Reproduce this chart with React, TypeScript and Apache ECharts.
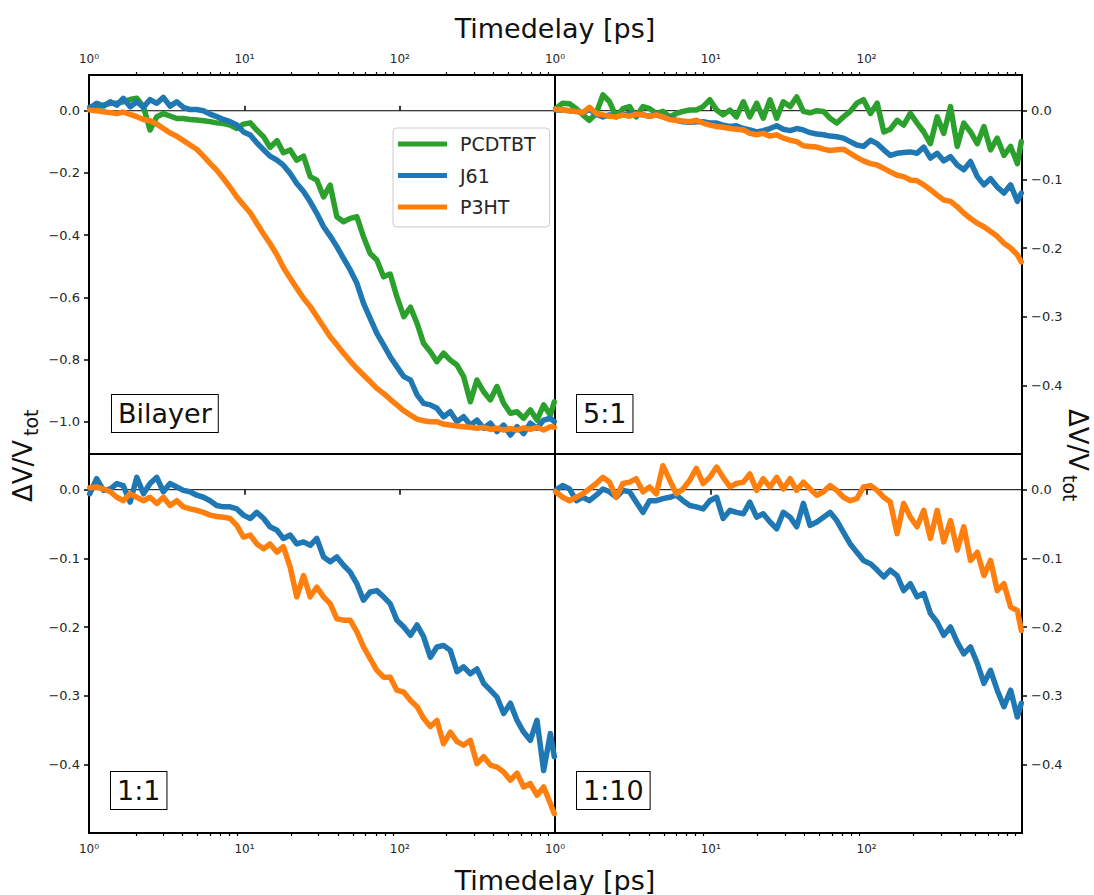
import React, { useEffect, useRef } from 'react';
import * as echarts from 'echarts';

// ---------- data (time in ps, signal ΔV/Vtot) ----------
const timePs = [
  1.01, 1.12, 1.24, 1.37, 1.51, 1.66, 1.84, 2.03, 2.24, 2.47,
  2.73, 3.01, 3.32, 3.67, 4.05, 4.47, 4.93, 5.45, 6.01, 6.63,
  7.33, 8.08, 8.93, 9.86, 10.9, 12.0, 13.3, 14.6, 16.2, 17.8,
  19.7, 21.7, 24.0, 26.5, 29.2, 32.3, 35.6, 39.3, 43.4, 47.9,
  52.9, 58.3, 64.4, 71.1, 78.5, 86.6, 95.6, 106, 117, 129,
  142, 157, 173, 191, 211, 233, 257, 284, 313, 346,
  382, 421, 465, 514, 567, 625, 690, 762, 841, 929,
  985,
];

const bilayerPCDTBT = [
  0.011, 0.013, 0.018, 0.024, 0.024, 0.029, 0.036, 0.040, 0.013, -0.062,
  -0.019, -0.009, -0.017, -0.025, -0.025, -0.028, -0.030, -0.032, -0.035, -0.039,
  -0.041, -0.046, -0.057, -0.043, -0.039, -0.062, -0.084, -0.118, -0.096, -0.135,
  -0.126, -0.159, -0.146, -0.212, -0.223, -0.277, -0.239, -0.341, -0.357, -0.346,
  -0.341, -0.405, -0.459, -0.480, -0.534, -0.525, -0.598, -0.662, -0.632, -0.684,
  -0.748, -0.775, -0.807, -0.780, -0.802, -0.818, -0.855, -0.936, -0.866, -0.904,
  -0.930, -0.887, -0.941, -0.973, -0.968, -0.989, -0.962, -0.995, -0.946, -0.979,
  -0.936,
];
const bilayerJ61 = [
  0.008, 0.024, 0.015, 0.029, 0.018, 0.040, 0.013, 0.029, 0.011, 0.036,
  0.024, 0.043, 0.015, 0.029, 0.011, 0.004, 0.004, 0.000, -0.011, -0.019,
  -0.028, -0.035, -0.046, -0.068, -0.078, -0.103, -0.126, -0.146, -0.159, -0.175,
  -0.202, -0.234, -0.260, -0.293, -0.330, -0.373, -0.403, -0.437, -0.475, -0.512,
  -0.555, -0.619, -0.668, -0.716, -0.753, -0.791, -0.823, -0.855, -0.866, -0.914,
  -0.941, -0.946, -0.957, -0.984, -0.968, -1.000, -0.984, -1.011, -0.995, -1.021,
  -1.005, -1.032, -1.011, -1.043, -1.016, -1.038, -1.005, -1.021, -0.995, -0.989,
  -1.000,
];
const bilayerP3HT = [
  0.002, 0.000, -0.003, -0.006, -0.009, -0.004, -0.012, -0.019, -0.028, -0.032,
  -0.043, -0.057, -0.071, -0.082, -0.096, -0.110, -0.124, -0.146, -0.169, -0.191,
  -0.218, -0.246, -0.277, -0.303, -0.328, -0.362, -0.397, -0.427, -0.464, -0.504,
  -0.539, -0.571, -0.603, -0.630, -0.662, -0.695, -0.727, -0.753, -0.780, -0.805,
  -0.829, -0.850, -0.871, -0.893, -0.909, -0.928, -0.946, -0.965, -0.979, -0.992,
  -0.997, -1.000, -1.000, -1.008, -1.011, -1.014, -1.016, -1.018, -1.021, -1.018,
  -1.025, -1.021, -1.027, -1.022, -1.027, -1.020, -1.025, -1.018, -1.027, -1.016,
  -1.018,
];

const fiveToOnePCDTBT = [
  0.003, 0.011, 0.010, 0.003, -0.006, -0.014, -0.004, 0.023, 0.013, -0.009,
  0.003, 0.006, -0.009, 0.006, 0.003, -0.004, -0.001, -0.009, -0.004, -0.001,
  0.001, 0.001, 0.006, 0.016, 0.001, -0.006, 0.001, -0.009, 0.013, -0.009,
  0.011, -0.011, 0.016, -0.011, 0.013, 0.006, 0.020, -0.001, -0.003, 0.000,
  -0.001, -0.011, -0.018, -0.009, -0.001, 0.011, 0.016, -0.004, 0.011, -0.031,
  -0.027, -0.014, -0.021, -0.004, -0.018, -0.031, -0.048, -0.009, -0.033, 0.006,
  -0.052, -0.018, -0.031, -0.048, -0.023, -0.057, -0.040, -0.065, -0.052, -0.077,
  -0.045,
];
const fiveToOneJ61 = [
  0.001, 0.001, 0.000, -0.001, -0.003, 0.002, -0.005, -0.009, -0.006, -0.008,
  -0.006, -0.004, -0.005, -0.006, -0.008, -0.006, -0.009, -0.011, -0.014, -0.016,
  -0.017, -0.016, -0.016, -0.018, -0.018, -0.021, -0.023, -0.022, -0.026, -0.028,
  -0.031, -0.029, -0.026, -0.022, -0.027, -0.029, -0.026, -0.028, -0.032, -0.034,
  -0.035, -0.037, -0.038, -0.040, -0.045, -0.050, -0.052, -0.043, -0.048, -0.057,
  -0.065, -0.062, -0.061, -0.060, -0.062, -0.053, -0.069, -0.062, -0.073, -0.067,
  -0.079, -0.086, -0.074, -0.096, -0.108, -0.099, -0.111, -0.120, -0.108, -0.132,
  -0.120,
];
const fiveToOneP3HT = [
  0.002, 0.001, 0.000, -0.001, -0.003, 0.005, -0.004, -0.006, -0.008, -0.009,
  -0.006, -0.008, -0.005, -0.006, -0.008, -0.006, -0.009, -0.013, -0.014, -0.015,
  -0.016, -0.014, -0.018, -0.021, -0.023, -0.024, -0.026, -0.027, -0.028, -0.033,
  -0.035, -0.033, -0.037, -0.035, -0.040, -0.043, -0.045, -0.051, -0.052, -0.053,
  -0.056, -0.058, -0.057, -0.056, -0.062, -0.068, -0.073, -0.077, -0.079, -0.084,
  -0.089, -0.094, -0.096, -0.101, -0.102, -0.108, -0.115, -0.123, -0.130, -0.132,
  -0.140, -0.149, -0.157, -0.164, -0.169, -0.176, -0.183, -0.193, -0.200, -0.210,
  -0.220,
];

const oneToOneJ61 = [
  -0.006, 0.016, -0.001, 0.001, 0.009, 0.006, -0.018, 0.018, -0.006, 0.009,
  0.018, -0.003, 0.009, 0.004, -0.001, -0.003, -0.008, -0.011, -0.016, -0.023,
  -0.025, -0.025, -0.028, -0.037, -0.042, -0.033, -0.042, -0.054, -0.059, -0.071,
  -0.066, -0.079, -0.076, -0.081, -0.071, -0.098, -0.105, -0.098, -0.110, -0.120,
  -0.137, -0.161, -0.149, -0.147, -0.156, -0.166, -0.190, -0.200, -0.212, -0.197,
  -0.214, -0.244, -0.229, -0.227, -0.234, -0.265, -0.258, -0.268, -0.261, -0.282,
  -0.292, -0.302, -0.326, -0.311, -0.336, -0.353, -0.365, -0.336, -0.409, -0.355,
  -0.389,
];
const oneToOneP3HT = [
  0.003, 0.004, 0.001, -0.003, -0.011, -0.016, -0.006, -0.011, -0.016, -0.011,
  -0.020, -0.011, -0.023, -0.016, -0.025, -0.028, -0.030, -0.033, -0.037, -0.039,
  -0.040, -0.042, -0.052, -0.069, -0.066, -0.079, -0.086, -0.079, -0.091, -0.083,
  -0.113, -0.156, -0.125, -0.156, -0.142, -0.156, -0.166, -0.188, -0.190, -0.190,
  -0.207, -0.229, -0.246, -0.263, -0.273, -0.273, -0.292, -0.295, -0.307, -0.316,
  -0.333, -0.345, -0.336, -0.370, -0.353, -0.367, -0.372, -0.365, -0.399, -0.389,
  -0.401, -0.404, -0.411, -0.423, -0.413, -0.433, -0.428, -0.445, -0.433, -0.457,
  -0.472,
];

const oneToTenJ61 = [
  -0.001, 0.006, 0.001, -0.016, -0.011, -0.016, -0.008, 0.001, -0.003, -0.011,
  -0.001, -0.003, -0.018, -0.033, -0.016, -0.016, -0.013, -0.011, -0.008, -0.016,
  -0.023, -0.025, -0.028, -0.016, -0.011, -0.042, -0.030, -0.033, -0.035, -0.018,
  -0.040, -0.035, -0.047, -0.057, -0.033, -0.040, -0.054, -0.020, -0.052, -0.047,
  -0.040, -0.033, -0.045, -0.062, -0.079, -0.091, -0.103, -0.108, -0.117, -0.127,
  -0.117, -0.125, -0.147, -0.137, -0.156, -0.151, -0.180, -0.193, -0.212, -0.200,
  -0.222, -0.239, -0.229, -0.253, -0.282, -0.263, -0.292, -0.316, -0.292, -0.331,
  -0.311,
];
const oneToTenP3HT = [
  -0.003, -0.011, -0.016, -0.011, -0.006, 0.001, 0.009, 0.018, 0.011, -0.011,
  0.009, 0.011, 0.016, -0.003, 0.004, -0.006, 0.035, 0.014, -0.006, 0.001,
  0.014, 0.031, 0.009, 0.018, 0.033, 0.018, 0.004, 0.009, 0.011, 0.023,
  -0.001, 0.016, 0.004, 0.018, 0.001, 0.016, -0.001, 0.011, 0.001, -0.008,
  -0.003, 0.006, -0.001, -0.011, -0.016, -0.013, 0.004, 0.006, -0.001, -0.011,
  -0.018, -0.064, -0.020, -0.040, -0.054, -0.030, -0.071, -0.030, -0.076, -0.045,
  -0.088, -0.054, -0.103, -0.091, -0.125, -0.103, -0.147, -0.137, -0.171, -0.176,
  -0.205,
];

const seriesNames = ['PCDTBT', 'J61', 'P3HT'];
const seriesColors = ['#2ca02c', '#1f77b4', '#ff7f0e'];
const panelLabels = ['Bilayer', '5:1', '1:1', '1:10'];
const xMajorTicks = [1, 10, 100];
const xMinorTicks = [2, 3, 4, 5, 6, 7, 8, 9, 20, 30, 40, 50, 60, 70, 80, 90, 200, 300, 400, 500, 600, 700, 800, 900];
const bilayerYTicks = [0, -0.2, -0.4, -0.6, -0.8, -1.0];
const blendYTicks = [0, -0.1, -0.2, -0.3, -0.4];
const X_MIN = 1;
const X_MAX = 995;

const panels = [
  { series: [bilayerPCDTBT, bilayerJ61, bilayerP3HT], yMin: -1.104, yMax: 0.115, yTicks: bilayerYTicks },
  { series: [fiveToOnePCDTBT, fiveToOneJ61, fiveToOneP3HT], yMin: -0.5, yMax: 0.052, yTicks: blendYTicks },
  { series: [null, oneToOneJ61, oneToOneP3HT], yMin: -0.5, yMax: 0.052, yTicks: blendYTicks },
  { series: [null, oneToTenJ61, oneToTenP3HT], yMin: -0.5, yMax: 0.052, yTicks: blendYTicks },
];

const FONT = 'DejaVu Sans';
const TEXT_COLOR = '#262626';
const SUP = ['\u2070', '\u00B9', '\u00B2', '\u00B3'];

const gridRects = [
  { left: 89, top: 75, width: 466, height: 379 },
  { left: 555, top: 75, width: 467, height: 379 },
  { left: 89, top: 454, width: 466, height: 379 },
  { left: 555, top: 454, width: 467, height: 379 },
];
const labelBoxes = [
  { x: 112, y: 395 },
  { x: 577, y: 395 },
  { x: 111, y: 772 },
  { x: 577, y: 772 },
];

function pairs(values: number[]) {
  const n = Math.min(values.length, timePs.length);
  const out: number[][] = [];
  for (let i = 0; i < n; i++) out.push([timePs[i], values[i]]);
  return out;
}

function xLabel(v: number) {
  const l = Math.log10(v);
  const e = Math.round(l);
  if (Math.abs(l - e) > 1e-6 || e < 0 || e > 2) return '';
  return '10' + SUP[e];
}
function yLabel(v: number) {
  if (Math.abs(v) < 1e-9) return '0.0';
  return v.toFixed(1).replace('-', '\u2212');
}

function buildOption() {
  const grid: any[] = [];
  const xAxis: any[] = [];
  const yAxis: any[] = [];
  const series: any[] = [];

  panels.forEach((p, i) => {
    const top = i < 2;
    const left = i % 2 === 0;
    grid.push({
      ...gridRects[i],
      show: true,
      borderColor: '#000',
      borderWidth: 2,
      backgroundColor: 'transparent',
      containLabel: false,
      outerBoundsMode: 'none',
    });
    xAxis.push({
      type: 'log',
      logBase: 10,
      gridIndex: i,
      min: X_MIN,
      max: X_MAX,
      position: top ? 'top' : 'bottom',
      axisLine: { show: false },
      splitLine: { show: false },
      minorSplitLine: { show: false },
      axisTick: { show: true, inside: false, length: 5, lineStyle: { color: '#000', width: 1.5 }, customValues: xMajorTicks },
      axisLabel: {
        show: true,
        customValues: xMajorTicks,
        formatter: xLabel,
        fontSize: 12,
        fontFamily: FONT,
        color: TEXT_COLOR,
        margin: 10,
      },
    });
    xAxis.push({
      type: 'log',
      logBase: 10,
      gridIndex: i,
      min: X_MIN,
      max: X_MAX,
      position: top ? 'top' : 'bottom',
      axisLine: { show: false },
      splitLine: { show: false },
      axisLabel: { show: false },
      axisTick: { show: true, inside: false, length: 3, lineStyle: { color: '#000', width: 1.2 }, customValues: xMinorTicks },
    });
    yAxis.push({
      type: 'value',
      gridIndex: i,
      min: p.yMin,
      max: p.yMax,
      position: left ? 'left' : 'right',
      axisLine: { show: false },
      splitLine: { show: false },
      axisTick: { show: true, inside: false, length: 5, lineStyle: { color: '#000', width: 1.5 }, customValues: p.yTicks },
      axisLabel: {
        show: true,
        customValues: p.yTicks,
        formatter: yLabel,
        fontSize: 13,
        fontFamily: FONT,
        color: TEXT_COLOR,
        margin: 9,
      },
    });
    series.push({
      type: 'line',
      xAxisIndex: 2 * i,
      yAxisIndex: i,
      data: [[X_MIN, 0], [X_MAX, 0]],
      showSymbol: false,
      symbol: 'none',
      silent: true,
      lineStyle: { color: '#000', width: 1 },
      z: 1,
    });
    p.series.forEach((vals, k) => {
      if (!vals) return;
      series.push({
        type: 'line',
        name: seriesNames[k],
        xAxisIndex: 2 * i,
        yAxisIndex: i,
        data: pairs(vals),
        showSymbol: false,
        symbol: 'none',
        lineStyle: { color: seriesColors[k], width: 5.5, join: 'round', cap: 'round' },
        itemStyle: { color: seriesColors[k] },
        z: 2 + k,
      });
    });
  });

  const graphic: any[] = [
    {
      type: 'text',
      x: 555,
      y: 28,
      style: { text: 'Timedelay [ps]', fontSize: 27, fontFamily: FONT, fill: '#111', align: 'center', verticalAlign: 'middle' },
    },
    {
      type: 'text',
      x: 555,
      y: 880,
      style: { text: 'Timedelay [ps]', fontSize: 27, fontFamily: FONT, fill: '#111', align: 'center', verticalAlign: 'middle' },
    },
    {
      type: 'group',
      x: 23,
      y: 456,
      rotation: Math.PI / 2,
      children: [
        { type: 'text', x: -46, y: 0, style: { text: '\u0394V/V', fontSize: 26, fontFamily: FONT, fill: '#111', align: 'left', verticalAlign: 'middle' } },
        { type: 'text', x: 20, y: 8, style: { text: 'tot', fontSize: 19, fontFamily: FONT, fill: '#111', align: 'left', verticalAlign: 'middle' } },
      ],
    },
    {
      type: 'group',
      x: 1078,
      y: 455,
      rotation: -Math.PI / 2,
      children: [
        { type: 'text', x: -46, y: 0, style: { text: '\u0394V/V', fontSize: 26, fontFamily: FONT, fill: '#111', align: 'left', verticalAlign: 'middle' } },
        { type: 'text', x: 20, y: 8, style: { text: 'tot', fontSize: 19, fontFamily: FONT, fill: '#111', align: 'left', verticalAlign: 'middle' } },
      ],
    },
  ];
  panelLabels.forEach((t, i) => {
    graphic.push({
      type: 'text',
      x: labelBoxes[i].x,
      y: labelBoxes[i].y,
      z: 100,
      style: {
        text: t,
        fontSize: 27,
        lineHeight: 29,
        fontFamily: FONT,
        fill: '#111',
        align: 'left',
        verticalAlign: 'top',
        backgroundColor: '#fff',
        borderColor: '#000',
        borderWidth: 1,
        padding: [4, 6, 4, 6],
      },
    });
  });

  return {
    animation: false,
    backgroundColor: '#fff',
    textStyle: { fontFamily: FONT },
    grid,
    xAxis,
    yAxis,
    series,
    graphic,
    legend: {
      show: true,
      data: seriesNames,
      orient: 'vertical',
      left: 393,
      top: 128,
      icon: 'rect',
      itemWidth: 49,
      itemHeight: 5,
      itemGap: 9.5,
      padding: [5, 14, 9, 5],
      borderColor: '#cccccc',
      borderWidth: 1,
      borderRadius: 4,
      backgroundColor: 'rgba(255,255,255,0.8)',
      selectedMode: false,
      z: 50,
      textStyle: { fontSize: 19, lineHeight: 22, color: TEXT_COLOR, fontFamily: FONT, padding: [0, 0, 0, 8] },
    },
  };
}

export default function App() {
  const ref = useRef<HTMLDivElement>(null);
  useEffect(() => {
    if (!ref.current) return;
    const chart = echarts.init(ref.current, undefined, { renderer: 'svg' });
    chart.setOption(buildOption() as any);
    return () => chart.dispose();
  }, []);
  return (
    <div
      ref={ref}
      style={{ position: 'absolute', left: 0, top: 0, width: 1094, height: 895, background: '#fff' }}
    />
  );
}
